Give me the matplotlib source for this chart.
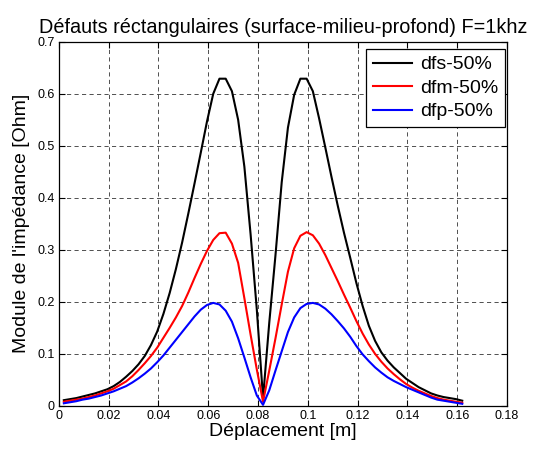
import matplotlib
matplotlib.use("Agg")
import matplotlib.pyplot as plt
import numpy as np

plt.rcParams['font.family'] = ['Liberation Sans', 'DejaVu Sans']

x = [0.002, 0.0045, 0.007, 0.0095, 0.012, 0.0145, 0.017, 0.0195, 0.022, 0.0245,
     0.027, 0.0295, 0.032, 0.0345, 0.037, 0.0395, 0.042, 0.0445, 0.047, 0.0495,
     0.052, 0.0545, 0.057, 0.0595, 0.062, 0.0645, 0.067, 0.0695, 0.072, 0.0745,
     0.077, 0.0795, 0.082, 0.0845, 0.087, 0.0895, 0.092, 0.0945, 0.097, 0.0995,
     0.102, 0.1045, 0.107, 0.1095, 0.112, 0.1145, 0.117, 0.1195, 0.122, 0.1245,
     0.127, 0.1295, 0.132, 0.1345, 0.137, 0.1395, 0.142, 0.1445, 0.147, 0.1495,
     0.152, 0.1545, 0.157, 0.1595, 0.162]

dfs = [0.011, 0.013, 0.015, 0.018, 0.021, 0.024, 0.028, 0.032, 0.038, 0.046,
       0.056, 0.067, 0.080, 0.096, 0.117, 0.143, 0.177, 0.217, 0.263, 0.314,
       0.370, 0.428, 0.487, 0.547, 0.600, 0.629, 0.629, 0.605, 0.550, 0.460,
       0.330, 0.185, 0.015, 0.160, 0.290, 0.430, 0.535, 0.598, 0.629, 0.629,
       0.605, 0.553, 0.497, 0.440, 0.385, 0.333, 0.285, 0.236, 0.192, 0.154,
       0.125, 0.103, 0.087, 0.074, 0.063, 0.052, 0.044, 0.036, 0.030, 0.024,
       0.020, 0.017, 0.015, 0.013, 0.010]

dfm = [0.008, 0.010, 0.012, 0.014, 0.017, 0.020, 0.024, 0.028, 0.033, 0.040,
       0.047, 0.057, 0.069, 0.082, 0.096, 0.112, 0.131, 0.150, 0.170, 0.192,
       0.218, 0.246, 0.273, 0.298, 0.319, 0.332, 0.333, 0.312, 0.275, 0.207,
       0.137, 0.070, 0.008, 0.068, 0.130, 0.195, 0.258, 0.303, 0.327, 0.334,
       0.328, 0.312, 0.290, 0.265, 0.240, 0.214, 0.189, 0.163, 0.139, 0.118,
       0.100, 0.085, 0.072, 0.061, 0.051, 0.042, 0.035, 0.029, 0.024, 0.019,
       0.015, 0.012, 0.010, 0.008, 0.006]

dfp = [0.005, 0.007, 0.009, 0.012, 0.014, 0.017, 0.020, 0.024, 0.028, 0.033,
       0.038, 0.045, 0.053, 0.062, 0.072, 0.084, 0.097, 0.112, 0.127, 0.142,
       0.157, 0.172, 0.185, 0.194, 0.198, 0.195, 0.183, 0.162, 0.130, 0.093,
       0.055, 0.020, 0.002, 0.030, 0.068, 0.105, 0.142, 0.170, 0.188, 0.196,
       0.198, 0.195, 0.187, 0.176, 0.163, 0.149, 0.133, 0.115, 0.099, 0.086,
       0.074, 0.064, 0.055, 0.048, 0.042, 0.036, 0.031, 0.026, 0.021, 0.016,
       0.012, 0.010, 0.008, 0.006, 0.004]

labels = ['dfs-50%', 'dfm-50%', 'dfp-50%']
colors = ['#000000', '#ff0000', '#0000ff']

xticks = [0, 0.02, 0.04, 0.06, 0.08, 0.1, 0.12, 0.14, 0.16, 0.18]
xticklabels = ['0', '0.02', '0.04', '0.06', '0.08', '0.1', '0.12', '0.14', '0.16', '0.18']
yticks = [0, 0.1, 0.2, 0.3, 0.4, 0.5, 0.6, 0.7]
yticklabels = ['0', '0.1', '0.2', '0.3', '0.4', '0.5', '0.6', '0.7']

fig = plt.figure(figsize=(5.4, 4.49), dpi=100)
ax = fig.add_axes([0.109, 0.096, 0.830, 0.811])

for y, lab, c in zip([dfs, dfm, dfp], labels, colors):
    ax.plot(x, y, color=c, lw=1.5, label=lab, zorder=3)

ax.set_xlim(0, 0.18)
ax.set_ylim(0, 0.7)
ax.set_xticks(xticks)
ax.set_xticklabels(xticklabels)
ax.set_yticks(yticks)
ax.set_yticklabels(yticklabels)
ax.tick_params(direction='in', top=True, right=True, length=4, width=0.8,
               labelsize=9, colors='black', pad=3)
ax.grid(True, color='black', linestyle=(0, (5, 4)), linewidth=0.6, alpha=0.8)
for s in ax.spines.values():
    s.set_linewidth(0.9)
    s.set_color('black')

ax.set_title('Défauts réctangulaires (surface-milieu-profond) F=1khz', fontsize=14.3, pad=6)
ax.set_xlabel('Déplacement [m]', fontsize=14, labelpad=1)
ax.set_ylabel("Module de l'impédance [Ohm]", fontsize=14, labelpad=5)

leg = ax.legend(loc='upper right', bbox_to_anchor=(0.995, 0.98), fontsize=14,
                frameon=True, fancybox=False, edgecolor='black', framealpha=1,
                borderpad=0.35, labelspacing=0.3, handlelength=2.0,
                handletextpad=0.4, borderaxespad=0.0)
leg.get_frame().set_linewidth(0.9)

fig.savefig('out.png', dpi=100, facecolor='white')
